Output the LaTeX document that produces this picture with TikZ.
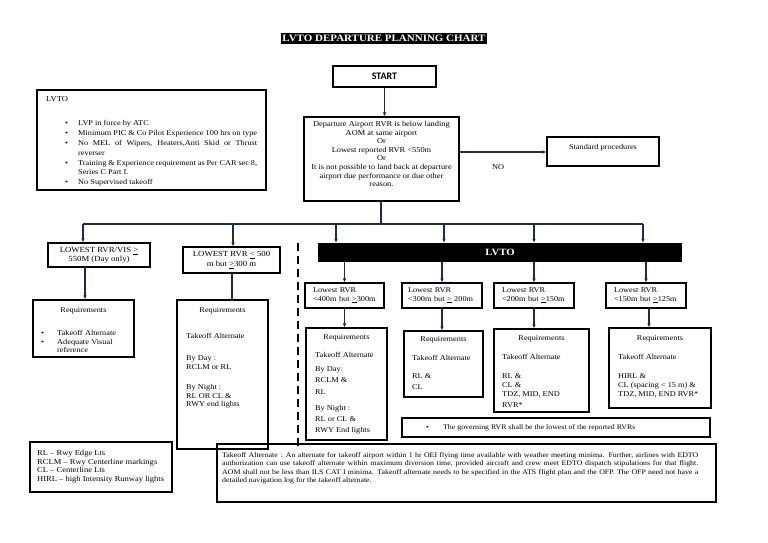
\documentclass[tikz,border=0pt]{standalone}
\usepackage{fontspec}
\setmainfont[FakeStretch=1.12]{Liberation Serif}
\newfontfamily\startfont{Carlito}
\usetikzlibrary{arrows.meta}
\definecolor{conn}{HTML}{1F2A44}
\newcommand\bitem[2][13pt]{\par\noindent\hangindent=#1\hangafter=1\makebox[#1][l]{\textbullet}#2}
\begin{document}
\begin{tikzpicture}[x=1pt,y=-1pt,
  box/.style={draw=black, line width=1.1pt, inner sep=0pt},
  thickbox/.style={draw=black, line width=1.8pt, inner sep=0pt},
  txt/.style={inner sep=0pt, font=\fontsize{7.4}{8.5}\selectfont, align=left},
  arr/.style={draw=conn, line width=1.1pt, -{Latex[length=4pt,width=3.5pt]}},
  ln/.style={draw=conn, line width=1.1pt}]
\path[use as bounding box, fill=white] (0,0) rectangle (768,543);

% title
\node[fill=black, text=white, inner xsep=1.5pt, inner ysep=1.8pt,
      font=\bfseries\fontsize{9.8}{10}\selectfont] (title) at (384,38.5) {LVTO DEPARTURE PLANNING CHART};

% start
\node[box, minimum width=103, minimum height=21,
      font=\startfont\bfseries\fontsize{10}{11}\selectfont] (start) at (384.5,76.5) {START};

% LVTO info box
\node[box, minimum width=229, minimum height=100] (lv) at (151.5,140) {};
\node[txt, anchor=north west, font=\fontsize{7.6}{9}\selectfont] (lvh) at (46,96) {LVTO};
\node[txt, anchor=north west, text width=192, align=justify,
      font=\fontsize{7.4}{9.8}\selectfont] (lvl) at (65,116)
 {\hyphenpenalty=10000\bitem{LVP in force by ATC}\bitem{Minimum PIC \& Co Pilot Experience 100 hrs on type}\bitem{No MEL of Wipers, Heaters,Anti Skid or Thrust\linebreak reverser}\bitem{Training \& Experience requirement as Per CAR sec 8,\linebreak Series C Part I.}\bitem{No Supervised takeoff}};

% decision
\node[box, minimum width=155, minimum height=84] (dec) at (381.5,159) {};
\node[txt, align=center, anchor=north, font=\fontsize{7.5}{8.6}\selectfont] (dect) at (381.5,121)
 {Departure Airport RVR is below landing\\AOM at same airport\\Or\\Lowest reported RVR <550m\\Or\\It is not possible to land back at departure\\airport due performance or due other\\reason.};

% standard procedures
\node[box, minimum width=112, minimum height=29] (std) at (603,151.5) {};
\node[txt, anchor=north] (stdt) at (603,144) {Standard procedures};
\node[txt] (no) at (498,167) {NO};

% left branches
\node[box, txt, align=center, minimum width=102, minimum height=24,
      font=\fontsize{7.8}{8.8}\selectfont] (A) at (99,255)
 {LOWEST RVR/VIS \underline{>}\\550M (Day only)};
\node[box, txt, align=center, minimum width=97, minimum height=26,
      font=\fontsize{7.8}{9.5}\selectfont] (B) at (231.5,260)
 {LOWEST RVR \underline{<} 500\\m but \underline{>}300 m};

% LVTO bar
\node[fill=black, minimum width=364, minimum height=19, inner sep=0pt, text=white,
      font=\bfseries\fontsize{9.6}{10}\selectfont] (bar) at (500,252.5) {LVTO};

% sub boxes
\node[box, txt, minimum width=79, minimum height=25, text width=63] (s1) at (344.5,295.5)
 {Lowest RVR\\<400m but \underline{>}300m};
\node[box, txt, minimum width=80, minimum height=25, text width=68] (s2) at (442,295.5)
 {Lowest RVR\\<300m but \underline{>} 200m};
\node[box, txt, minimum width=80, minimum height=25, text width=64] (s3) at (534,295.5)
 {Lowest RVR\\<200m but \underline{>}150m};
\node[box, txt, minimum width=80, minimum height=25, text width=64] (s4) at (646,295.5)
 {Lowest RVR\\<150m but \underline{>}125m};

% requirement boxes
\node[box, minimum width=101, minimum height=57] (C) at (83.5,328.5) {};
\node[txt, anchor=north] (Ch) at (C.center |- 0,307) {Requirements};
\node[txt, anchor=north west, text width=85] (Cl) at (41,327)
 {\bitem[16pt]{Takeoff Alternate}\bitem[16pt]{Adequate Visual}\par\noindent\hspace*{16pt}reference};

\node[box, minimum width=91, minimum height=149] (D) at (222.5,374.5) {};
\node[txt, anchor=north] (Dh) at (D.center |- 0,307) {Requirements};
\node[txt, anchor=north west] (Dl) at (186,333)
 {Takeoff Alternate\\[14pt]By Day :\\RCLM or RL\\[12pt]By Night :\\RL OR CL \&\\RWY end lights};

\node[box, minimum width=81, minimum height=112] (E) at (346.5,384) {};
\node[txt, anchor=north] (Eh) at (E.center |- 0,334) {Requirements};
\node[txt, anchor=north west, font=\fontsize{7.4}{11.2}\selectfont] (El) at (315,352)
 {Takeoff Alternate\\[3pt]By Day:\\RCLM \&\\RL\\[5pt]By Night :\\RL or CL \&\\RWY End lights};

\node[box, minimum width=79, minimum height=66] (F) at (443.5,364) {};
\node[txt, anchor=north] (Fh) at (F.center |- 0,336) {Requirements};
\node[txt, anchor=north west, font=\fontsize{7.4}{11}\selectfont] (Fl) at (412,355)
 {Takeoff Alternate\\[7pt]RL \&\\CL};

\node[box, minimum width=95, minimum height=83] (G) at (541.5,370.5) {};
\node[txt, anchor=north] (Gh) at (G.center |- 0,335) {Requirements};
\node[txt, anchor=north west, font=\fontsize{7.4}{9.2}\selectfont] (Gl) at (502,354)
 {Takeoff Alternate\\[9.5pt]RL \&\\CL \&\\TDZ, MID, END\\[1.5pt]RVR*};

\node[box, minimum width=102, minimum height=80] (H) at (660,368) {};
\node[txt, anchor=north] (Hh) at (H.center |- 0,335) {Requirements};
\node[txt, anchor=north west, font=\fontsize{7.4}{9.2}\selectfont] (Hl) at (618,354)
 {Takeoff Alternate\\[9.5pt]HIRL \&\\CL (spacing < 15 m) \&\\TDZ, MID, END RVR*};

% governing note
\node[box, minimum width=308, minimum height=19] (gov) at (556,427.5) {};
\node[txt, anchor=west, font=\fontsize{7}{8}\selectfont] (govt) at (426,427.5)
 {\makebox[17pt][l]{\textbullet}The governing RVR shall be the lowest of the reported RVRs};

% legend
\node[thickbox, minimum width=142, minimum height=50] (leg) at (101,467) {};
\node[txt, anchor=north west, font=\fontsize{7.6}{8.7}\selectfont] (legt) at (37,450)
 {RL -- Rwy Edge Lts\\RCLM -- Rwy Centerline markings\\CL -- Centerline Lts\\HIRL -- high Intensity Runway lights};

% bottom note
\node[thickbox, minimum width=499, minimum height=58] (bn) at (466.5,473) {};
\node[txt, anchor=north west, text width=476, align=justify,
      font=\fontsize{7}{8.5}\selectfont] (bnt) at (222,452)
 {\hyphenpenalty=10000 Takeoff Alternate : An alternate for takeoff airport within 1 hr OEI flying time available with weather meeting minima. Further, airlines with EDTO\linebreak authorization can use takeoff alternate within maximum diversion time, provided aircraft and crew meet EDTO dispatch stipulations for that flight.\linebreak AOM shall not be less than ILS CAT I minima. Takeoff alternate needs to be specified in the ATS flight plan and the OFP. The OFP need not have a\linebreak detailed navigation log for the takeoff alternate.};

% connectors
\draw[arr] (start.south) -- (start.south |- dec.north);
\draw[arr] (dec.east |- 0,152) -- (std.west |- 0,152);
\coordinate (j0) at (381,224);
\coordinate (jl) at (83,224);
\coordinate (jr) at (643,224);
\draw[ln] (dec.south -| j0) -- (j0);
\draw[ln] (jl) -- (jr);
\draw[arr] (jl) -- (jl |- A.north);
\coordinate (jb) at (233,224);
\draw[arr] (jb) -- (jb |- B.north);
\foreach \x/\n in {336/1,444/2,534/3,643/4}{
  \coordinate (jt\n) at (\x,224);
  \draw[arr] (jt\n) -- (jt\n |- bar.north);
}
\draw[arr] (s1.north |- bar.south) -- (s1.north);
\draw[arr] (s2.north |- bar.south) -- (s2.north);
\draw[arr] (s3.north |- bar.south) -- (s3.north);
\draw[arr] (s4.north |- bar.south) -- (s4.north);
\coordinate (ja) at (85,267);
\draw[arr] (ja) -- (ja |- C.north);
\coordinate (jd) at (232,273);
\draw[ln] (jd) -- (jd |- D.north);
\draw[arr] (s1.south) -- (s1.south |- E.north);
\draw[arr] (s2.south) -- (s2.south |- F.north);
\draw[arr] (s3.south) -- (s3.south |- G.north);
\coordinate (jh) at (649,308);
\draw[arr] (jh) -- (jh |- H.north);

% dashed separator
\coordinate (d1) at (298,243);
\coordinate (d2) at (298,446);
\draw[line width=2pt, dash pattern=on 8pt off 5pt] (d1) -- (d2);
\end{tikzpicture}
\end{document}
